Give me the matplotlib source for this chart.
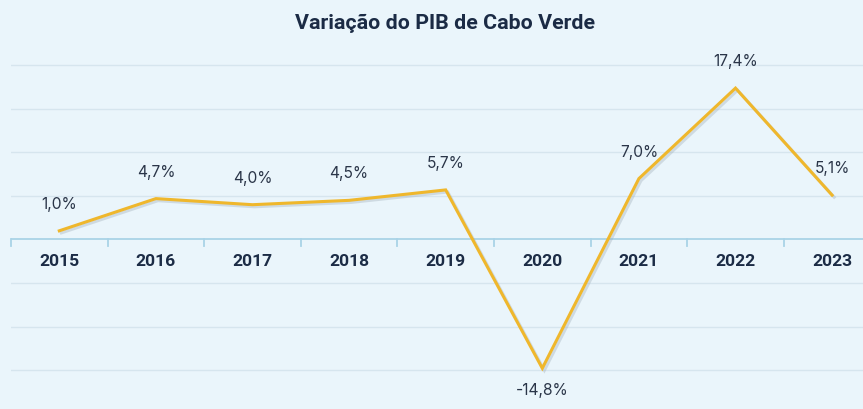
import matplotlib
matplotlib.use("Agg")
import matplotlib.pyplot as plt
import matplotlib.patheffects as pe
import numpy as np

years = ["2015", "2016", "2017", "2018", "2019", "2020", "2021", "2022", "2023"]
growth = [1.0, 4.7, 4.0, 4.5, 5.7, -14.8, 7.0, 17.4, 5.1]
labels = ["1,0%", "4,7%", "4,0%", "4,5%", "5,7%", "-14,8%", "7,0%", "17,4%", "5,1%"]
title = "Variação do PIB de Cabo Verde"

W, H = 863, 409
BG = "#EAF5FB"
fig = plt.figure(figsize=(W / 100, H / 100), dpi=100, facecolor=BG)

# axes geometry in pixels
left_px = 11
step = 96.6
top_px, bot_px = 55, 409
zero_px = 239.5
ppu = 8.7
ax = fig.add_axes([left_px / W, 0, 1 - left_px / W, (bot_px - top_px) / H])
ax.set_facecolor(BG)
x = np.arange(len(years))
ax.set_xlim(-0.5, (W - left_px) / step - 0.5)
ax.set_ylim(-(bot_px - zero_px) / ppu, (zero_px - top_px) / ppu)

for s in ax.spines.values():
    s.set_visible(False)
ax.set_xticks([])
ax.set_yticks([])

for g in [-15, -10, -5, 5, 10, 15, 20]:
    ax.axhline(g, color="#D6E5EE", lw=1.0, zorder=1)
ax.axhline(0, color="#A9D3E7", lw=1.3, zorder=2)
# category boundary ticks
for b in np.arange(-0.5, len(years), 1.0):
    ax.plot([b, b], [0, -0.7], color="#A9D3E7", lw=1.3, zorder=2, clip_on=False)

ax.plot(x, growth, color="#EFB72C", lw=2.2, zorder=4, solid_joinstyle="miter",
        path_effects=[pe.SimpleLineShadow(offset=(1.5, -1.5), shadow_color="#9AAAB5", alpha=0.35),
                      pe.Normal()])

for xi, yi, lab in zip(x, growth, labels):
    if yi < 0:
        ax.annotate(lab, (xi, yi), xytext=(0, -16), textcoords="offset points",
                    ha="center", va="center", fontsize=11.2, color="#2A3548", family="Inter")
    else:
        ax.annotate(lab, (xi, yi), xytext=(0, 19), textcoords="offset points",
                    ha="center", va="center", fontsize=11.2, color="#2A3548", family="Inter")

for xi, y in zip(x, years):
    ax.text(xi, -(262 - zero_px) / ppu, y, ha="center", va="center", fontsize=12.6,
            fontweight="bold", color="#1C2C46", family="Roboto")

fig.text(445 / W, 1 - 23 / H, title, ha="center", va="center", fontsize=15.4,
         fontweight="bold", color="#1B2B45", family="Roboto")

fig.savefig("out.png", dpi=100, facecolor=BG)
